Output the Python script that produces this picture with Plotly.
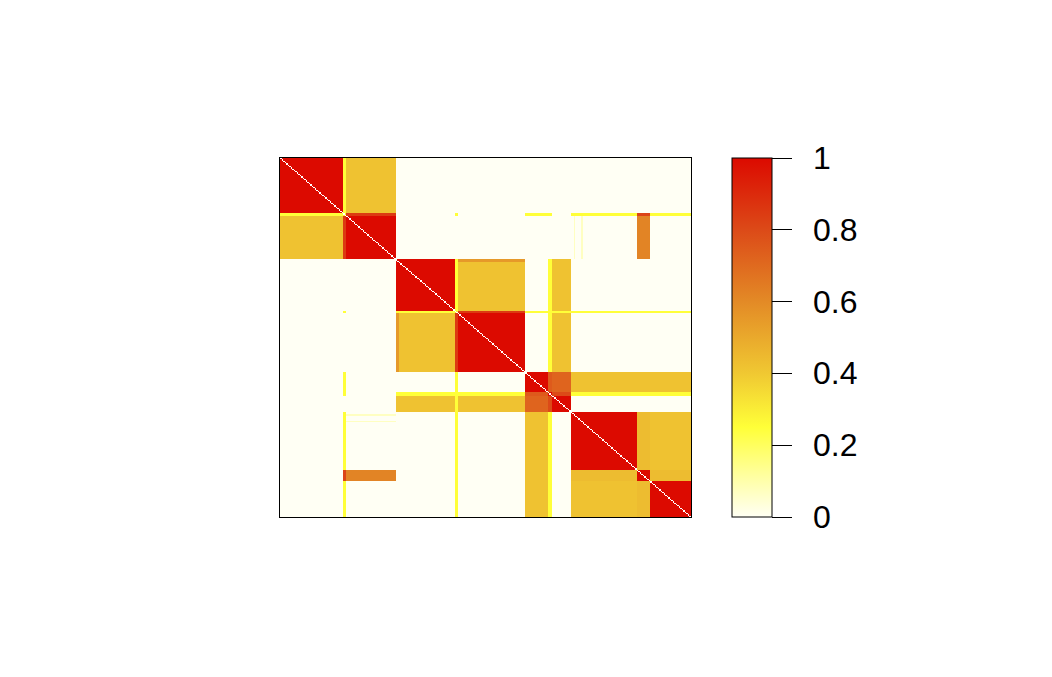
import plotly.graph_objs as go
import numpy as np

# samples in the order they appear on both axes, as runs ("segments")
seg_names = ["A", "s1", "B", "C0", "C", "s2", "D0", "D", "E1", "E2", "E3",
             "F", "f1", "F", "f2", "F", "G", "H"]
seg_sizes = [42, 2, 33, 2, 37, 2, 3, 42, 15, 3, 12,
             2, 1, 4, 1, 36, 9, 27]

# segments that behave like a cluster unless a pair says otherwise
seg_base = {"C0": "C", "D0": "D", "f1": "F", "f2": "F"}

# consensus between segments (symmetric), 0 when not listed
pair_a = ["A",  "s1", "s1", "s1", "s1", "s1", "s1", "s1", "s1", "s1",
          "B",  "f1", "f2",
          "C",  "C",  "C",  "C",  "C0", "C0",
          "s2", "s2", "s2", "s2", "s2", "s2", "s2", "s2", "s2",
          "D",  "D",  "D",
          "E1", "E1", "E1", "E1", "E1",
          "E2", "E2", "E2", "E2",
          "F",  "F",  "G"]
pair_b = ["B",  "A",  "B",  "s2", "E1", "E2", "F",  "G",  "H",  "s1",
          "G",  "B",  "B",
          "s2", "D",  "E2", "E3", "D",  "D0",
          "D",  "E1", "E2", "E3", "F",  "G",  "H",  "D0", "s2",
          "C0", "E2", "E3",
          "E2", "E3", "F",  "G",  "H",
          "E3", "F",  "G",  "H",
          "G",  "H",  "H"]
pair_v = [0.42, 0.25, 0.85, 0.25, 0.25, 0.25, 0.25, 0.82, 0.25, 0.3,
          0.62, 0.07, 0.07,
          0.25, 0.42, 0.25, 0.42, 0.55, 0.55,
          0.85, 0.25, 0.25, 0.25, 0.25, 0.25, 0.25, 0.85, 0.3,
          0.55, 0.25, 0.42,
          0.75, 0.72, 0.42, 0.42, 0.42,
          0.80, 0.25, 0.25, 0.25,
          0.44, 0.42, 0.44]

cbar_ticks = [0, 0.2, 0.4, 0.6, 0.8, 1]
cbar_labels = ["0", "0.2", "0.4", "0.6", "0.8", "1"]

pairs = {}
for a, b, v in zip(pair_a, pair_b, pair_v):
    pairs[(a, b)] = v
    pairs[(b, a)] = v


def seg_value(a, b):
    if (a, b) in pairs:
        return pairs[(a, b)]
    ba, bb = seg_base.get(a, a), seg_base.get(b, b)
    for key in [(ba, b), (a, bb), (ba, bb)]:
        if key in pairs:
            return pairs[key]
    if ba == bb:
        return 1.0
    return 0.0


labels = []
for name, size in zip(seg_names, seg_sizes):
    labels += [name] * size
n = len(labels)

z = np.zeros((n, n))
for i in range(n):
    for j in range(n):
        z[i, j] = seg_value(labels[i], labels[j])
z[np.arange(n), np.arange(n)] = np.nan

colorscale = [[0.0, "#FFFFF4"], [0.12, "#FFFF9C"], [0.25, "#FFFF38"],
              [0.4, "#F0C832"], [0.6, "#E38A26"], [0.8, "#DC4A18"],
              [1.0, "#DC0A00"]]

trace = go.Heatmap(
    z=z,
    x=list(range(n)),
    y=list(range(n)),
    zmin=0, zmax=1,
    colorscale=colorscale,
    colorbar=dict(
        thickness=40, len=1, lenmode="fraction",
        x=(732 - 280) / 411, xanchor="left", xpad=0,
        y=0.5, yanchor="middle", ypad=0,
        outlinecolor="black", outlinewidth=1,
        tickmode="array", tickvals=cbar_ticks,
        ticks="outside", ticklen=20, tickcolor="black", tickwidth=1,
        showticklabels=False,
    ),
)

# colour bar labels sit well clear of the tick marks
annotations = []
for v, t in zip(cbar_ticks, cbar_labels):
    annotations.append(dict(
        x=(811 - 280) / 411, y=v, xref="paper", yref="paper",
        text=t, showarrow=False, xanchor="left", yanchor="middle",
        font=dict(family="Liberation Sans, Arial", size=32, color="black"),
    ))

axis = dict(showline=True, linecolor="black", linewidth=1, mirror=True,
            showticklabels=False, ticks="", showgrid=False, zeroline=False)

layout = go.Layout(
    width=1052, height=677,
    margin=dict(l=272, r=369, t=150, b=168),
    paper_bgcolor="white", plot_bgcolor="white",
    xaxis=dict(axis, range=[-0.5, n - 0.5]),
    yaxis=dict(axis, range=[n - 0.5, -0.5]),
    annotations=annotations,
)

fig = go.Figure(data=[trace], layout=layout)
fig.write_html("out.html")
